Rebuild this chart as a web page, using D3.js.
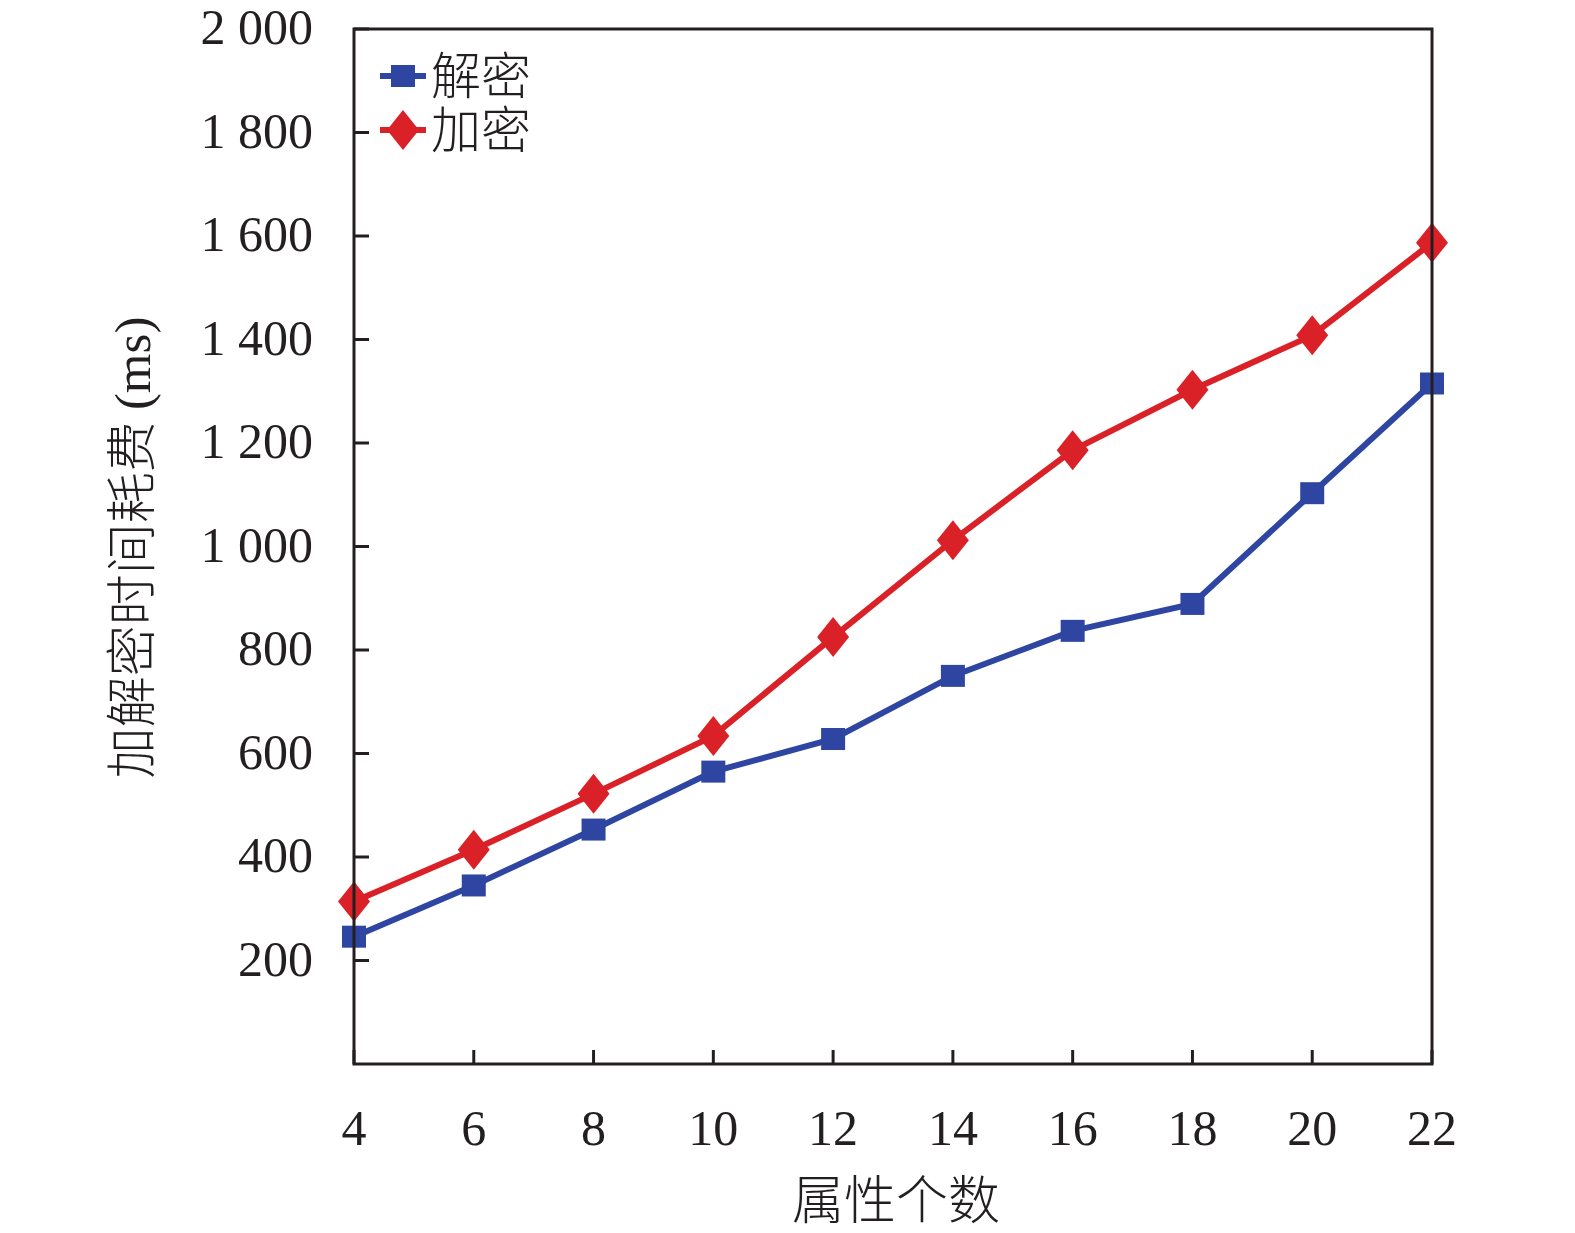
<!DOCTYPE html>
<html>
<head>
<meta charset="utf-8">
<script src="https://cdn.jsdelivr.net/npm/d3@7"></script>
<style>
  html, body { margin: 0; padding: 0; background: #fff; overflow: hidden; width: 100%; height: 100%; }
  #chart { width: 100%; height: 100%; }
  svg { display: block; }
  .tick-label { font-family: "Liberation Serif", "DejaVu Serif", serif; font-size: 50px; fill: #231f20; }
  .cjk { font-family: "Noto Sans CJK SC", sans-serif; font-weight: 300; fill: #231f20; }
  .serif { font-family: "Liberation Serif", "DejaVu Serif", serif; }
</style>
</head>
<body>
<div id="chart"></div>
<script>
// attribute counts (x) and times in ms
var attrCounts = [4, 6, 8, 10, 12, 14, 16, 18, 20, 22];
var decryptTimes = [246, 345, 453, 565, 628, 750, 837, 889, 1103, 1315];
var encryptTimes = [314, 414, 522, 634, 825, 1012, 1186, 1303, 1408, 1587];
var yTicks = [200, 400, 600, 800, 1000, 1200, 1400, 1600, 1800, 2000];
var seriesNames = ["解密", "加密"];

var W = 1575, H = 1233;
var margin = { top: 29, right: 143, bottom: 169, left: 354 };
var width = W - margin.left - margin.right,
    height = H - margin.top - margin.bottom;

var svg = d3.select("#chart").append("svg")
  .attr("viewBox", "0 0 " + W + " " + H)
  .attr("width", "100%").attr("height", "100%");
var g = svg.append("g")
  .attr("transform", "translate(" + margin.left + "," + margin.top + ")");

var x = d3.scaleLinear().domain([4, 22]).range([0, width]);
var y = d3.scaleLinear().domain([0, 2000]).range([height, 0]);

var ink = "#231f20";
var blue = "#2e46a2", red = "#da2128";

// tick label format: thousands separated by a space
function fmt(v) {
  return v >= 1000 ? Math.floor(v / 1000) + " " + d3.format("03d")(v % 1000) : String(v);
}

// y ticks (inward) and labels
g.selectAll(".ytick").data(yTicks).join("line")
  .attr("x1", 0).attr("x2", 15)
  .attr("y1", d => y(d)).attr("y2", d => y(d))
  .attr("stroke", ink).attr("stroke-width", 3);
g.selectAll(".ylab").data(yTicks).join("text")
  .attr("class", "tick-label")
  .attr("x", -41).attr("y", d => y(d) + 15)
  .attr("text-anchor", "end")
  .text(fmt);

// x ticks (inward) and labels
g.selectAll(".xtick").data(attrCounts).join("line")
  .attr("x1", d => x(d)).attr("x2", d => x(d))
  .attr("y1", height).attr("y2", height - 14)
  .attr("stroke", ink).attr("stroke-width", 3);
g.selectAll(".xlab").data(attrCounts).join("text")
  .attr("class", "tick-label")
  .attr("x", d => x(d)).attr("y", height + 81)
  .attr("text-anchor", "middle")
  .text(d => d);

// axis titles
g.append("text").attr("class", "cjk")
  .attr("x", width / 2 + 3).attr("y", height + 155)
  .attr("text-anchor", "middle")
  .style("font-size", "52px")
  .text("属性个数");
var yTitle = g.append("text").attr("class", "cjk")
  .attr("transform", "translate(" + (-204) + "," + (height / 2 + 1) + ") rotate(-90)")
  .attr("text-anchor", "middle")
  .style("font-size", "51px");
yTitle.append("tspan").text("加解密时间耗费 ");
yTitle.append("tspan").attr("class", "serif").text("(ms)");

// lines
var line = d3.line().x((d, i) => x(attrCounts[i])).y(d => y(d));
g.append("path").datum(decryptTimes)
  .attr("fill", "none").attr("stroke", blue).attr("stroke-width", 6)
  .attr("d", line);
g.append("path").datum(encryptTimes)
  .attr("fill", "none").attr("stroke", red).attr("stroke-width", 6)
  .attr("d", line);

// markers
var sq = 24;
g.selectAll(".sq").data(decryptTimes).join("rect")
  .attr("x", (d, i) => x(attrCounts[i]) - sq / 2)
  .attr("y", d => y(d) - sq / 2 + 1)
  .attr("width", sq).attr("height", sq - 2)
  .attr("fill", blue);
function diamond(cx, cy) {
  return "M" + cx + "," + (cy - 20) + "L" + (cx + 16) + "," + cy +
    "L" + cx + "," + (cy + 20) + "L" + (cx - 16) + "," + cy + "Z";
}
g.selectAll(".dm").data(encryptTimes).join("path")
  .attr("d", (d, i) => diamond(x(attrCounts[i]), y(d)))
  .attr("fill", red);

// frame on top
g.append("rect")
  .attr("x", 0).attr("y", 0).attr("width", width).attr("height", height)
  .attr("fill", "none").attr("stroke", ink).attr("stroke-width", 3);

// legend
var legend = g.append("g").attr("transform", "translate(26,47)");
var colors = [blue, red];
seriesNames.forEach(function (name, i) {
  var ly = i * 54;
  legend.append("line")
    .attr("x1", 0).attr("x2", 46).attr("y1", ly).attr("y2", ly)
    .attr("stroke", colors[i]).attr("stroke-width", 6);
  if (i === 0) {
    legend.append("rect").attr("x", 11).attr("y", ly - 11)
      .attr("width", 24).attr("height", 22).attr("fill", blue);
  } else {
    legend.append("path").attr("d", diamond(23, ly)).attr("fill", red);
  }
  legend.append("text").attr("class", "cjk")
    .attr("x", 51).attr("y", ly + 18)
    .style("font-size", "50px")
    .text(name);
});
</script>
</body>
</html>
